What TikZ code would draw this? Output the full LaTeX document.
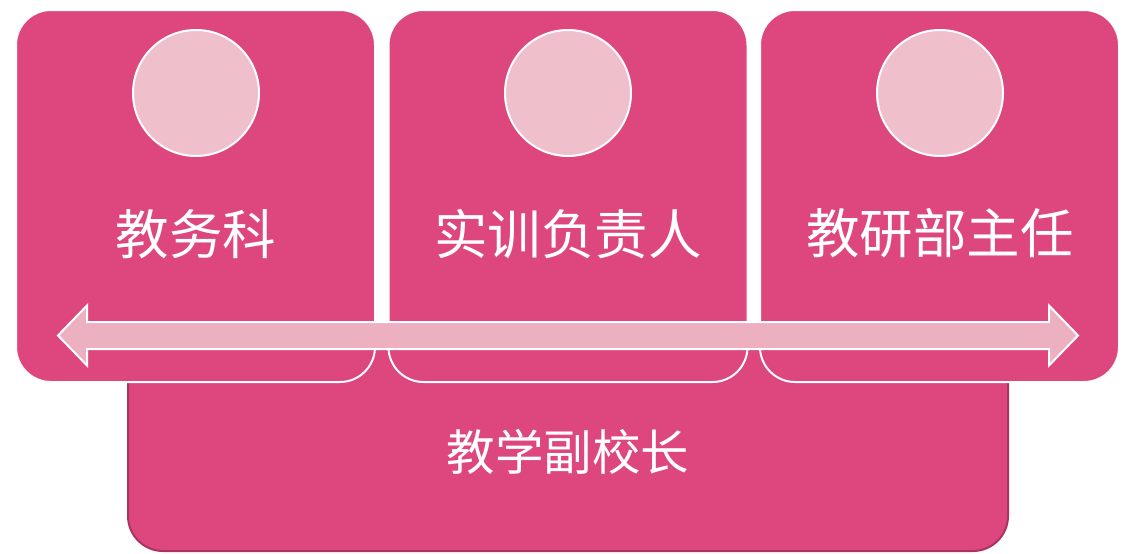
\documentclass[tikz,border=0pt]{standalone}
\usepackage{fontspec}
\newfontfamily\cjk{Noto Sans CJK SC}
\usetikzlibrary{calc}
\definecolor{mainpink}{HTML}{DE477E}
\definecolor{circpink}{HTML}{EFC0CB}
\definecolor{arrowpink}{HTML}{ECB0C0}
\definecolor{darkpink}{HTML}{A83464}
\tikzset{
  topbox/.style={draw=white, line width=2pt, fill=mainpink, rounded corners=35pt, minimum width=359pt, minimum height=372pt, inner sep=0pt},
  topcirc/.style={circle, draw=white, line width=2pt, fill=circpink, minimum size=126pt, inner sep=0pt},
  toplabel/.style={text=white, font=\cjk\fontsize{53.5}{60}\selectfont, inner sep=0pt},
  basebox/.style={draw=darkpink, line width=2pt, fill=mainpink, rounded corners=35pt},
  dblarrow/.style={draw=white, line width=2pt, fill=arrowpink, line join=miter}
}
\begin{document}
\begin{tikzpicture}[x=1pt,y=-1pt]
\useasboundingbox (0,0) rectangle (1127,554);
% base box
\draw[basebox] (128,336) rectangle (1008,551);
\node[text=white, font=\cjk\fontsize{48.5}{56}\selectfont, inner sep=0pt] (base) at (568,452) {教学副校长};
% top boxes
\node[topbox] (b1) at (195.5,196) {};
\node[topbox] (b2) at (568,196) {};
\node[topbox] (b3) at (939.5,196) {};
\node[topcirc] (c1) at (196,93) {};
\node[topcirc] (c2) at (568,93) {};
\node[topcirc] (c3) at (940,93) {};
\node[toplabel] (t1) at (196,234) {教务科};
\node[toplabel] (t2) at (568,234) {实训负责人};
\node[toplabel] (t3) at (940,233) {教研部主任};
% double arrow
\coordinate (aL) at (58,335.5);
\coordinate (aR) at (1078,335.5);
\draw[dblarrow] (aL) -- ($(aL)+(29,-30)$) -- ($(aL)+(29,-13.5)$) -- ($(aR)+(-29,-13.5)$) -- ($(aR)+(-29,-30)$) -- (aR)
  -- ($(aR)+(-29,30)$) -- ($(aR)+(-29,13.5)$) -- ($(aL)+(29,13.5)$) -- ($(aL)+(29,30)$) -- cycle;
\end{tikzpicture}
\end{document}
